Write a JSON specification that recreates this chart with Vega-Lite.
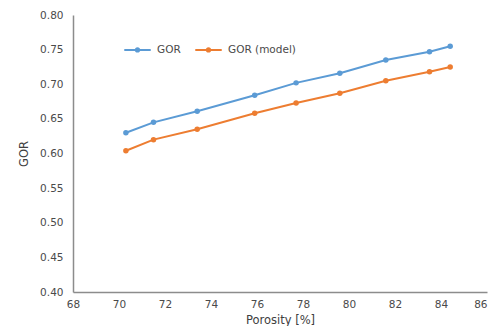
{
  "$schema": "https://vega.github.io/schema/vega-lite/v6.json",
  "autosize": "none",
  "width": 414,
  "height": 277,
  "padding": {"left": 73, "top": 15, "right": 1, "bottom": 34},
  "background": "white",
  "config": {
    "view": {"stroke": null},
    "font": "DejaVu Sans",
    "axis": {"grid": false, "ticks": false, "labelFlush": false, "domainColor": "#8c8c8c", "domainWidth": 1.5, "labelColor": "#4a4a4a", "labelFontSize": 10.5, "titleColor": "#404040", "titleFontSize": 11.5, "titleFontWeight": "normal"}
  },
  "data": {
    "values": [
      {"porosity": 70.3, "gor": 0.630, "series": "GOR"},
      {"porosity": 71.5, "gor": 0.645, "series": "GOR"},
      {"porosity": 73.4, "gor": 0.661, "series": "GOR"},
      {"porosity": 75.9, "gor": 0.684, "series": "GOR"},
      {"porosity": 77.7, "gor": 0.702, "series": "GOR"},
      {"porosity": 79.6, "gor": 0.716, "series": "GOR"},
      {"porosity": 81.6, "gor": 0.735, "series": "GOR"},
      {"porosity": 83.5, "gor": 0.747, "series": "GOR"},
      {"porosity": 84.4, "gor": 0.755, "series": "GOR"},
      {"porosity": 70.3, "gor": 0.604, "series": "GOR (model)"},
      {"porosity": 71.5, "gor": 0.620, "series": "GOR (model)"},
      {"porosity": 73.4, "gor": 0.635, "series": "GOR (model)"},
      {"porosity": 75.9, "gor": 0.658, "series": "GOR (model)"},
      {"porosity": 77.7, "gor": 0.673, "series": "GOR (model)"},
      {"porosity": 79.6, "gor": 0.687, "series": "GOR (model)"},
      {"porosity": 81.6, "gor": 0.705, "series": "GOR (model)"},
      {"porosity": 83.5, "gor": 0.718, "series": "GOR (model)"},
      {"porosity": 84.4, "gor": 0.725, "series": "GOR (model)"}
    ]
  },
  "mark": {"type": "line", "strokeWidth": 2, "point": {"size": 30, "filled": true}},
  "encoding": {
    "x": {"field": "porosity", "type": "quantitative", "title": "Porosity [%]", "scale": {"domain": [68, 86], "nice": false, "zero": false}, "axis": {"values": [68, 70, 72, 74, 76, 78, 80, 82, 84, 86], "labelAlign": {"condition": {"test": "datum.value == 86", "value": "right"}, "value": "center"}, "labelPadding": 7, "titlePadding": 5}},
    "y": {"field": "gor", "type": "quantitative", "title": "GOR", "scale": {"domain": [0.4, 0.8], "nice": false, "zero": false}, "axis": {"values": [0.4, 0.45, 0.5, 0.55, 0.6, 0.65, 0.7, 0.75, 0.8], "format": ".2f", "labelPadding": 10, "titlePadding": 10}},
    "color": {"field": "series", "type": "nominal", "scale": {"domain": ["GOR", "GOR (model)"], "range": ["#5b9bd5", "#ed7d31"]}, "legend": {"title": null, "orient": "none", "legendX": 50, "legendY": 20, "direction": "horizontal", "columns": 2, "symbolType": "M-1,0H1M0.12,0A0.12,0.12,0,1,1,-0.12,0A0.12,0.12,0,1,1,0.12,0", "symbolSize": 700, "symbolStrokeWidth": 2, "labelFontSize": 10.5, "labelColor": "#4a4a4a", "labelOffset": 5, "columnPadding": 10}}
  }
}
